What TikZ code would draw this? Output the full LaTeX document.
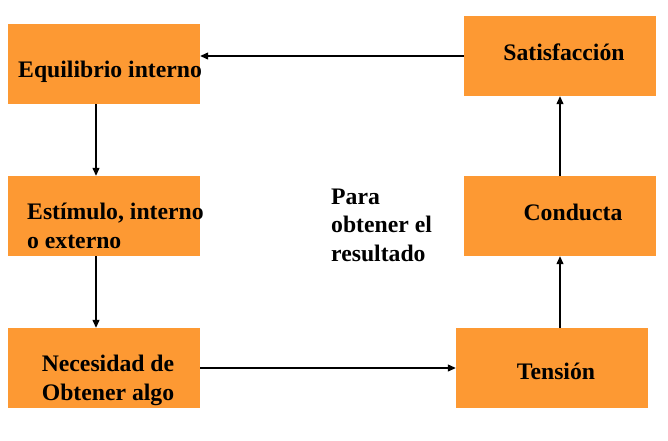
\documentclass[tikz,border=0pt]{standalone}
\usepackage{fontspec}
\setmainfont{Liberation Serif}
\usetikzlibrary{arrows.meta}
\definecolor{boxorange}{RGB}{253,153,51}
\begin{document}
\begin{tikzpicture}[x=1pt,y=-1pt,
  box/.style={fill=boxorange,draw=none,inner sep=0pt,minimum width=192pt,minimum height=80pt},
  lbl/.style={inner sep=0pt,font=\fontsize{23.7}{28.5}\selectfont\bfseries},
  arr/.style={line width=1.2pt,-{Triangle[length=8pt,width=7pt]}}]
\useasboundingbox (0,0) rectangle (668,440);
\node[box] (eq)  at (104,64) {};
\node[box] (est) at (104,216) {};
\node[box] (nec) at (104,368) {};
\node[box] (sat) at (560,56) {};
\node[box] (con) at (560,216) {};
\node[box] (ten) at (552,368) {};
\node[lbl,anchor=base west] (teq) at (18,77) {Equilibrio interno};
\node[lbl,anchor=base west,align=left] (test) at (27,248) {Estímulo, interno\\o externo};
\node[lbl,anchor=base,align=center] (tnec) at (108,400) {Necesidad de\\Obtener algo};
\node[lbl,anchor=base] (tsat) at (564,60) {Satisfacción};
\node[lbl,anchor=base] (tcon) at (573,220) {Conducta};
\node[lbl,anchor=base] (tten) at (556,379) {Tensión};
\node[lbl,anchor=base west,align=left] (tpara) at (331,261) {Para\\obtener el\\resultado};
\draw[arr] (sat.west) -- (sat.west -| eq.east);
\draw[arr] ([xshift=-8pt]eq.south) -- ([xshift=-8pt]est.north);
\draw[arr] ([xshift=-8pt]est.south) -- ([xshift=-8pt]nec.north);
\draw[arr] (nec.east) -- (ten.west);
\draw[arr] ([xshift=8pt]ten.north) -- (con.south);
\draw[arr] (con.north) -- (sat.south);
\end{tikzpicture}
\end{document}
